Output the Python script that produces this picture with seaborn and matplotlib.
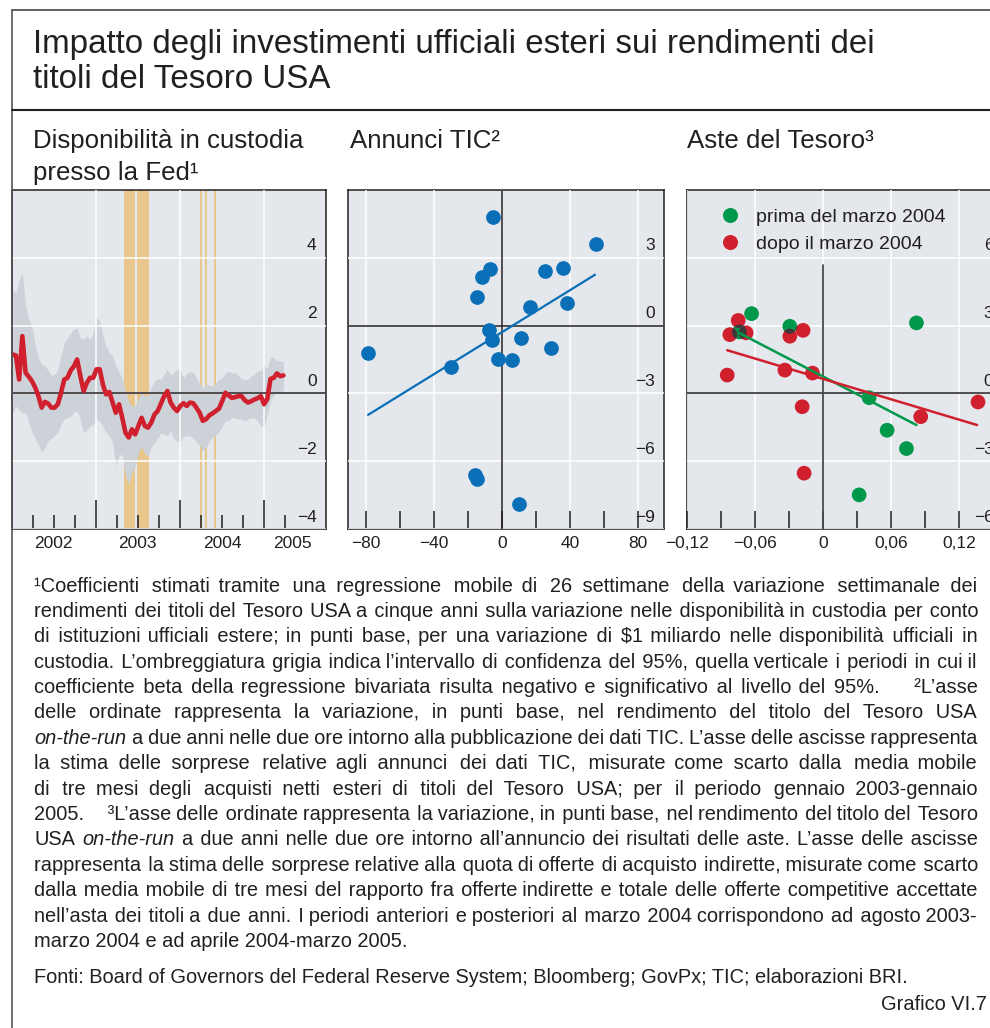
import numpy as np
import pandas as pd
import matplotlib.pyplot as plt
import matplotlib.transforms as mtransforms
from matplotlib.lines import Line2D
from matplotlib.patches import Circle
import seaborn as sns

# ---------------- data ----------------
# panel 1: rolling beta on custody holdings, read every two weeks
custody_start = "2002-01-04"
custody_beta = [1.15, 1.12, 0.41, 1.69, 0.61, 0.49, 0.36, 0.17, -0.08, -0.42,
                -0.25, -0.30, -0.42, -0.42, -0.32, 0.02, 0.41, 0.46, 0.68, 0.80,
                1.00, 0.51, 0.07, 0.31, 0.46, 0.46, 0.71, 0.71, 0.26, -0.03,
                0.04, -0.27, -0.57, -0.32, -0.72, -1.16, -1.30, -1.06, -1.21, -0.96,
                -0.72, -0.96, -1.01, -0.86, -0.62, -0.52, -0.30, -0.08, 0.07, -0.27,
                -0.42, -0.52, -0.37, -0.29, -0.37, -0.27, -0.29, -0.42, -0.57, -0.81,
                -0.76, -0.65, -0.59, -0.52, -0.45, -0.23, 0.02, -0.06, -0.13, -0.11,
                -0.08, -0.08, -0.20, -0.27, -0.23, -0.18, -0.14, -0.08, -0.32, -0.16,
                0.43, 0.46, 0.59, 0.51, 0.53]
custody_upper = [3.06, 2.96, 3.35, 3.55, 2.57, 2.20, 1.98, 1.39, 1.05, 0.85,
                 0.80, 0.69, 0.53, 0.56, 0.71, 1.10, 1.49, 1.64, 1.78, 1.90,
                 1.93, 1.63, 1.61, 1.69, 1.59, 1.80, 2.25, 2.13, 1.71, 1.39,
                 1.20, 1.10, 0.82, 0.63, 0.43, 0.07, -0.25, -0.37, -0.37, -0.13,
                 0.00, -0.06, -0.08, 0.17, 0.36, 0.43, 0.41, 0.56, 0.71, 0.53,
                 0.61, 0.71, 0.66, 0.46, 0.59, 0.65, 0.63, 0.46, 0.29, 0.17,
                 0.26, 0.26, 0.22, 0.29, 0.41, 0.46, 0.61, 0.65, 0.61, 0.61,
                 0.53, 0.43, 0.41, 0.41, 0.51, 0.56, 0.66, 0.66, 0.84, 0.73,
                 1.08, 1.05, 0.96, 0.95, 0.93]
custody_lower = [-0.57, -0.37, -0.47, -0.57, -0.57, -0.86, -1.14, -1.33, -1.50, -1.73,
                 -1.60, -1.40, -1.32, -1.25, -1.14, -0.91, -0.76, -0.72, -0.67, -0.55,
                 -0.52, -0.76, -1.16, -1.08, -0.96, -0.91, -0.76, -0.81, -0.96, -1.16,
                 -1.25, -1.45, -2.14, -1.84, -1.79, -2.43, -2.68, -2.33, -2.14, -1.76,
                 -1.57, -1.79, -1.84, -1.57, -1.45, -1.32, -1.16, -1.21, -1.25, -1.11,
                 -1.33, -1.40, -1.45, -1.27, -1.25, -1.25, -1.33, -1.43, -1.53, -1.70,
                 -1.60, -1.40, -1.30, -1.24, -1.14, -0.98, -0.81, -0.81, -0.72, -0.72,
                 -0.76, -0.76, -0.81, -0.76, -0.72, -0.72, -0.81, -0.96, -1.01, -0.62,
                 -0.20, -0.04, 0.02, 0.07, 0.07]
signif_start = ["2003-05-01", "2003-06-29", "2004-03-29", "2004-04-20", "2004-05-29"]
signif_end = ["2003-06-18", "2003-08-18", "2004-04-05", "2004-04-27", "2004-06-05"]
year_labels = ["2002", "2003", "2004", "2005"]
year_label_pos = ["2002-07-01", "2003-07-01", "2004-07-01", "2005-05-05"]

# panel 2: TIC announcements
tic_x = [-5.1, 55.1, -7.1, -11.6, 25.3, 35.7, -14.5, 16.5, 38.0, -7.4,
         -5.9, 11.2, 29.0, -78.8, -2.2, 6.1, -30.0, -15.9, -14.5, 10.0]
tic_y = [4.82, 3.62, 2.50, 2.13, 2.43, 2.54, 1.27, 0.81, 1.01, -0.18,
         -0.63, -0.57, -0.98, -1.22, -1.46, -1.53, -1.82, -6.62, -6.79, -7.90]
tic_fit_x = [-78.8, 54.7]
tic_fit_y = [-3.95, 2.25]

# panel 3: Treasury auctions
before_x = [-0.0632, -0.0294, -0.0740, 0.0824, 0.0406, 0.0565, 0.0736, 0.0318]
before_y = [3.53, 2.97, 2.72, 3.12, -0.19, -1.63, -2.44, -4.49]
after_x = [-0.0750, -0.0824, -0.0680, -0.0294, -0.0177, -0.0847, -0.0338, -0.0094,
           -0.0185, 0.1368, 0.0862, -0.0168]
after_y = [3.23, 2.60, 2.68, 2.53, 2.79, 0.81, 1.03, 0.90, -0.59, -0.38, -1.03, -3.53]
before_fit_x = [-0.0740, 0.0824]
before_fit_y = [2.67, -1.40]
after_fit_x = [-0.0847, 0.1360]
after_fit_y = [1.91, -1.40]
auction_labels = ["prima del marzo 2004", "dopo il marzo 2004"]
auction_ticks = [-0.12, -0.06, 0, 0.06, 0.12]
auction_ticklabels = ["\u22120,12", "\u22120,06", "0", "0,06", "0,12"]

title = ["Impatto degli investimenti ufficiali esteri sui rendimenti dei",
         "titoli del Tesoro USA"]
subtitles = [["Disponibilità in custodia", "presso la Fed¹"], ["Annunci TIC²"], ["Aste del Tesoro³"]]
notes = [
    "¹Coefficienti stimati tramite una regressione mobile di 26 settimane della variazione settimanale dei",
    "rendimenti dei titoli del Tesoro USA a cinque anni sulla variazione nelle disponibilità in custodia per conto",
    "di istituzioni ufficiali estere; in punti base, per una variazione di \\$1 miliardo nelle disponibilità ufficiali in",
    "custodia. L’ombreggiatura grigia indica l’intervallo di confidenza del 95%, quella verticale i periodi in cui il",
    "coefficiente beta della regressione bivariata risulta negativo e significativo al livello del 95%.    ²L’asse",
    "delle ordinate rappresenta la variazione, in punti base, nel rendimento del titolo del Tesoro USA",
    "_on-the-run a due anni nelle due ore intorno alla pubblicazione dei dati TIC. L’asse delle ascisse rappresenta",
    "la stima delle sorprese relative agli annunci dei dati TIC, misurate come scarto dalla media mobile",
    "di tre mesi degli acquisti netti esteri di titoli del Tesoro USA; per il periodo gennaio 2003-gennaio",
    "2005.    ³L’asse delle ordinate rappresenta la variazione, in punti base, nel rendimento del titolo del Tesoro",
    "USA _on-the-run a due anni nelle due ore intorno all’annuncio dei risultati delle aste. L’asse delle ascisse",
    "rappresenta la stima delle sorprese relative alla quota di offerte di acquisto indirette, misurate come scarto",
    "dalla media mobile di tre mesi del rapporto fra offerte indirette e totale delle offerte competitive accettate",
    "nell’asta dei titoli a due anni. I periodi anteriori e posteriori al marzo 2004 corrispondono ad agosto 2003-",
]
notes_last = "marzo 2004 e ad aprile 2004-marzo 2005."
sources = "Fonti: Board of Governors del Federal Reserve System; Bloomberg; GovPx; TIC; elaborazioni BRI."
chart_no = "Grafico VI.7"

# ---------------- style ----------------
ink = "#231f20"
bg = "#e4e7eb"
red = "#d0202e"
green = "#00984a"
blue = "#0a6fb7"
sns.set_theme(style="darkgrid", rc={"axes.facecolor": bg, "grid.color": "white",
                                    "grid.linewidth": 1.1, "axes.edgecolor": ink})
plt.rcParams["font.family"] = ["Liberation Sans", "DejaVu Sans"]
plt.rcParams["text.color"] = ink

W, H = 990, 1028
fig = plt.figure(figsize=(W / 100, H / 100), dpi=100)


def box(left, top, width, height):
    return [left / W, 1 - (top + height) / H, width / W, height / H]


ax1 = fig.add_axes(box(12, 190, 314, 339))
ax2 = fig.add_axes(box(348, 190, 316, 339))
ax3 = fig.add_axes(box(686.7, 190, 316, 339))

# ---------------- panel 1 ----------------
df1 = pd.DataFrame({"data": pd.date_range(custody_start, periods=len(custody_beta), freq="14D"),
                    "beta": custody_beta, "low": custody_lower, "high": custody_upper})
for s, e in zip(signif_start, signif_end):
    ax1.axvspan(pd.Timestamp(s), pd.Timestamp(e), color="#e8c68c", lw=0, zorder=0.6)
ax1.fill_between(df1["data"], df1["low"], df1["high"], color="#cdd1d8", lw=0, zorder=0.8)
sns.lineplot(data=df1, x="data", y="beta", ax=ax1, color=red, lw=3.3, errorbar=None, zorder=3)
ax1.axhline(0, color=ink, lw=1.1, zorder=2.6)
ax1.set_xlim(pd.Timestamp("2002-01-01"), pd.Timestamp("2005-09-26"))
ax1.set_ylim(-4, 6)
ax1.set_yticks([-4, -2, 0, 2, 4])
ax1.set_xticks(pd.to_datetime(["2003-01-01", "2004-01-01", "2005-01-01"]), labels=["", "", ""])
quarters = [d for d in pd.date_range("2002-04-01", "2005-04-01", freq="QS") if d.month != 1]
minor_pos = [d for d in quarters if d.strftime("%Y-%m-%d") not in year_label_pos]
minor_lab = [""] * len(minor_pos)
minor_pos += list(pd.to_datetime(year_label_pos))
minor_lab += year_labels
ax1.set_xticks(minor_pos, labels=minor_lab, minor=True)

# ---------------- panel 2 ----------------
sns.scatterplot(x=tic_x, y=tic_y, ax=ax2, color=blue, s=112, linewidth=0, zorder=3)
sns.lineplot(x=tic_fit_x, y=tic_fit_y, ax=ax2, color=blue, lw=1.6, zorder=4)
ax2.axhline(0, color=ink, lw=1.1, zorder=2.6)
ax2.axvline(0, color=ink, lw=1.1, zorder=2.6)
ax2.set_xlim(-90.6, 95.3)
ax2.set_ylim(-9, 6)
ax2.set_xticks([-80, -40, 0, 40, 80])
ax2.set_xticks([-60, -20, 20, 60], minor=True)
ax2.set_yticks([-9, -6, -3, 0, 3])

# ---------------- panel 3 ----------------
df3 = pd.DataFrame({"x": before_x + after_x, "y": before_y + after_y,
                    "periodo": [auction_labels[0]] * len(before_x) + [auction_labels[1]] * len(after_x)})
sns.scatterplot(data=df3, x="x", y="y", hue="periodo", ax=ax3, s=112, linewidth=0,
                palette={auction_labels[0]: green, auction_labels[1]: red}, legend=False, zorder=3)
sns.lineplot(x=before_fit_x, y=before_fit_y, ax=ax3, color=green, lw=1.8, zorder=4)
sns.lineplot(x=after_fit_x, y=after_fit_y, ax=ax3, color=red, lw=1.8, zorder=4)
ax3.axhline(0, color=ink, lw=1.1, zorder=2.6)
ax3.axvline(0, ymax=0.779, color="#4a4a4a", lw=1.3, zorder=2.6)
ax3.set_xlim(-0.1205, 0.1586)
ax3.set_ylim(-6, 9)
ax3.set_xticks(auction_ticks, labels=auction_ticklabels)
ax3.set_xticks([-0.09, -0.03, 0.03, 0.09, 0.15], minor=True)
ax3.set_yticks([-6, -3, 0, 3, 6])
ax3.legend(handles=[Line2D([0], [0], marker="o", ls="none", markersize=10.8, markeredgewidth=0,
                           markerfacecolor=c, label=l)
                    for c, l in zip([green, red], auction_labels)],
           loc="upper left", bbox_to_anchor=(0.105, 0.945), frameon=False, fontsize=14,
           handlelength=1.0, handletextpad=0.85, labelspacing=0.45, borderpad=0, borderaxespad=0)

# dark tone where the two groups overlap (as in the printed chart)
r_px = 7.4
for gx, gy in zip(before_x, before_y):
    for rx, ry in zip(after_x, after_y):
        g = ax3.transData.transform((gx, gy))
        q = ax3.transData.transform((rx, ry))
        if np.hypot(*(g - q)) < 2 * r_px:
            dark = Circle(g, r_px, transform=mtransforms.IdentityTransform(),
                          color="#3a3a3c", lw=0, zorder=3.5)
            ax3.add_patch(dark)
            dark.set_clip_path(Circle(q, r_px, transform=mtransforms.IdentityTransform()))

# ---------------- common axis styling ----------------
for ax in (ax1, ax2, ax3):
    ax.set(xlabel="", ylabel="")
    ax.set_axisbelow(False)
    ax.grid(True, which="major", color="white", lw=1.1)
    ax.grid(False, which="minor")
    for sp in ax.spines.values():
        sp.set_visible(True)
        sp.set_color(ink)
        sp.set_linewidth(1.1)
    ax.yaxis.tick_right()
    ax.tick_params(axis="x", which="both", direction="in", bottom=True, top=False,
                   length=13, width=1.1, color=ink, labelsize=12.5, labelcolor=ink,
                   pad=5, labelbottom=True)
    ax.tick_params(axis="y", which="both", length=0, left=False, right=True,
                   labelleft=False, labelright=True, pad=-6.7, labelsize=12.5, labelcolor=ink)

ax1.tick_params(axis="x", which="major", length=21)
ax1.tick_params(axis="x", which="minor", length=10)
ax1.xaxis.get_minor_ticks(len(minor_pos))[-1].tick1line.set_visible(False)

lift = mtransforms.ScaledTranslation(0, 5.3 / 72, fig.dpi_scale_trans)
for ax in (ax1, ax2, ax3):
    for t in ax.yaxis.get_major_ticks():
        t.label2.set_horizontalalignment("right")
        t.label2.set_verticalalignment("baseline")
        t.label2.set_transform(t.label2.get_transform() + lift)

# ---------------- frame, titles ----------------
fx = 12 / W
fig.add_artist(Line2D([fx, 1], [1 - 10 / H] * 2, color="#444444", lw=1.2))
fig.add_artist(Line2D([fx, fx], [0, 1 - 10 / H], color="#555555", lw=1.2))
fig.add_artist(Line2D([fx, 1], [1 - 110 / H] * 2, color=ink, lw=1.5))

fig.text(33 / W, 1 - 53 / H, title[0], fontsize=23.9, va="baseline")
fig.text(33 / W, 1 - 88 / H, title[1], fontsize=23.9, va="baseline")
for x, rows in zip([33, 350, 687], subtitles):
    for k, txt in enumerate(rows):
        fig.text(x / W, 1 - (148 + 32 * k) / H, txt, fontsize=18.6, va="baseline")

# ---------------- justified footnotes ----------------
renderer = fig.canvas.get_renderer()
x0, x1 = 34.5, 977.5
fs = 14.4


def text_width(s, style="normal"):
    t = fig.text(0, 0, s, fontsize=fs, style=style)
    w = t.get_window_extent(renderer).width
    t.remove()
    return w


space_w = text_width("x x") - text_width("xx")
hair_w = text_width("x\u200ax") - text_width("xx")


def justified_line(line, y):
    # words plus gap weights (extra blanks widen a gap)
    words, weights, pending = [], [], 0
    for tok in line.split(" "):
        if tok == "":
            pending += 1
            continue
        if words:
            weights.append(1 + pending)
        pending = 0
        words.append((tok.lstrip("_"), "italic" if tok.startswith("_") else "normal"))
    widths = [text_width(w, st) for w, st in words]
    gap = (x1 - x0 - sum(widths)) / sum(weights)
    ideal = [x0]
    for k in range(1, len(words)):
        ideal.append(ideal[-1] + widths[k - 1] + gap * weights[k - 1])
    # one text per run of same style; gaps filled with spaces + hair spaces
    segs = []
    cur_txt, cur_style, cur_x = words[0][0], words[0][1], x0
    actual = x0 + widths[0]
    for k in range(1, len(words)):
        w, st = words[k]
        if st != cur_style:
            segs.append((cur_x, cur_txt, cur_style))
            cur_txt, cur_style, cur_x = w, st, ideal[k]
            actual = ideal[k] + widths[k]
            continue
        need = ideal[k] - actual
        n_sp = int(need // space_w) if need >= space_w else 0
        n_hair = max(1, int(round((need - n_sp * space_w) / hair_w)))
        cur_txt += " " * n_sp + "\u200a" * n_hair + w
        actual += n_sp * space_w + n_hair * hair_w + widths[k]
    segs.append((cur_x, cur_txt, cur_style))
    for sx, txt, st in segs:
        fig.text(sx / W, 1 - y / H, txt, fontsize=fs, style=st, va="baseline")


y = 591.5
for line in notes:
    justified_line(line, y)
    y += 25.4
fig.text(x0 / W, 1 - y / H, notes_last, fontsize=fs, va="baseline")
fig.text(x0 / W, 1 - 983 / H, sources, fontsize=fs, va="baseline")
fig.text(986.5 / W, 1 - 1010 / H, chart_no, fontsize=fs, va="baseline", ha="right")

fig.savefig("out.png", dpi=100, facecolor="white")
